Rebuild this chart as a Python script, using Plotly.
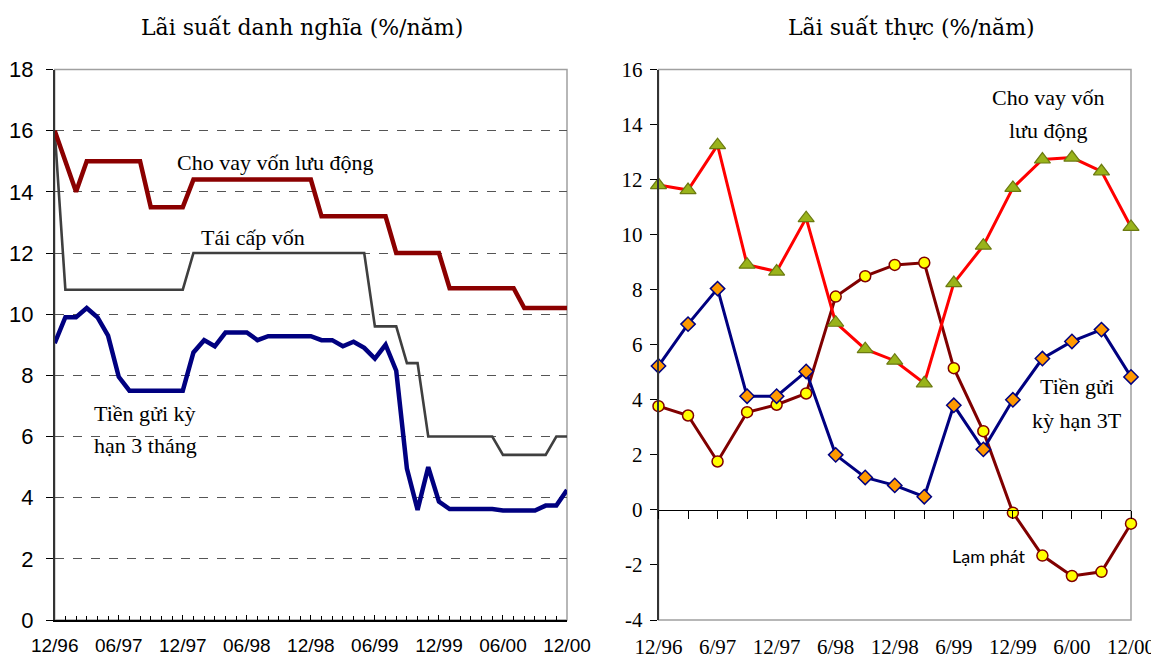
import plotly.graph_objects as go

# ---- left panel: nominal rates, monthly 12/96 .. 12/00 ----
months = list(range(49))
month_ticks = [0, 6, 12, 18, 24, 30, 36, 42, 48]
month_labels = ["12/96", "06/97", "12/97", "06/98", "12/98", "06/99", "12/99", "06/00", "12/00"]

lending_nominal = [16.0, 15.05, 14.0, 15.0, 15.0, 15.0, 15.0, 15.0, 15.0, 13.5,
                   13.5, 13.5, 13.5, 14.4, 14.4, 14.4, 14.4, 14.4, 14.4, 14.4,
                   14.4, 14.4, 14.4, 14.4, 14.4, 13.2, 13.2, 13.2, 13.2, 13.2,
                   13.2, 13.2, 12.0, 12.0, 12.0, 12.0, 12.0, 10.85, 10.85, 10.85,
                   10.85, 10.85, 10.85, 10.85, 10.2, 10.2, 10.2, 10.2, 10.2]
refinance_nominal = [16.0, 10.8, 10.8, 10.8, 10.8, 10.8, 10.8, 10.8, 10.8, 10.8,
                     10.8, 10.8, 10.8, 12.0, 12.0, 12.0, 12.0, 12.0, 12.0, 12.0,
                     12.0, 12.0, 12.0, 12.0, 12.0, 12.0, 12.0, 12.0, 12.0, 12.0,
                     9.6, 9.6, 9.6, 8.4, 8.4, 6.0, 6.0, 6.0, 6.0, 6.0,
                     6.0, 6.0, 5.4, 5.4, 5.4, 5.4, 5.4, 6.0, 6.0]
deposit_nominal = [9.05, 9.9, 9.9, 10.2, 9.9, 9.3, 7.95, 7.5, 7.5, 7.5,
                   7.5, 7.5, 7.5, 8.75, 9.15, 8.95, 9.4, 9.4, 9.4, 9.15,
                   9.28, 9.28, 9.28, 9.28, 9.28, 9.15, 9.15, 8.95, 9.1, 8.9,
                   8.55, 9.0, 8.15, 4.95, 3.6, 5.0, 3.87, 3.63, 3.63, 3.63,
                   3.63, 3.63, 3.58, 3.58, 3.58, 3.58, 3.74, 3.74, 4.25]

# ---- right panel: real rates, quarterly ----
quarters = list(range(17))
quarter_labels = ["12/96", "", "6/97", "", "12/97", "", "6/98", "", "12/98", "",
                  "6/99", "", "12/99", "", "6/00", "", "12/00"]
real_ticks = [-4, -2, 0, 2, 4, 6, 8, 10, 12, 14, 16]
real_tick_labels = ["-4", "-2", "0", "2", "4", "6", "8", "10", "12", "14", "16"]

lending_real = [11.8, 11.62, 13.25, 8.91, 8.66, 10.6, 6.8, 5.84, 5.42, 4.6,
                8.24, 9.6, 11.7, 12.73, 12.8, 12.3, 10.28]
deposit_real = [5.23, 6.75, 8.04, 4.13, 4.13, 5.03, 2.0, 1.18, 0.89, 0.48,
                3.8, 2.2, 4.0, 5.5, 6.12, 6.55, 4.83]
inflation = [3.77, 3.43, 1.76, 3.55, 3.82, 4.23, 7.75, 8.49, 8.9, 8.98,
             5.15, 2.86, -0.1, -1.66, -2.4, -2.25, -0.5]

W, H = 1159, 658
PAGE_PAD = 8  # default body margin of the html page
SERIF = "Liberation Serif, Times New Roman, serif"
TITLE_SERIF = "DejaVu Serif, serif"
SANS = "Liberation Sans, Arial, sans-serif"


def fx(px):
    return (px - PAGE_PAD) / W


def fy(py):
    return 1 - (py - PAGE_PAD) / H


fig = go.Figure()

fig.add_trace(go.Scatter(x=months, y=refinance_nominal, mode="lines",
                         line=dict(color="#3f3f3f", width=2.6), xaxis="x", yaxis="y"))
fig.add_trace(go.Scatter(x=months, y=lending_nominal, mode="lines",
                         line=dict(color="#8b0000", width=4.5), xaxis="x", yaxis="y"))
fig.add_trace(go.Scatter(x=months, y=deposit_nominal, mode="lines",
                         line=dict(color="#000080", width=4.5), xaxis="x", yaxis="y"))

fig.add_trace(go.Scatter(x=quarters, y=inflation, mode="lines+markers", cliponaxis=False,
                         line=dict(color="#800000", width=3),
                         marker=dict(symbol="circle", size=11, color="#ffff00",
                                     line=dict(color="#800000", width=1.5)),
                         xaxis="x2", yaxis="y2"))
fig.add_trace(go.Scatter(x=quarters, y=lending_real, mode="lines+markers", cliponaxis=False,
                         line=dict(color="#ff0000", width=3),
                         marker=dict(symbol="triangle-up", size=14, color="#99b31a",
                                     line=dict(color="#6b7a10", width=1.2)),
                         xaxis="x2", yaxis="y2"))
fig.add_trace(go.Scatter(x=quarters, y=deposit_real, mode="lines+markers", cliponaxis=False,
                         line=dict(color="#000080", width=3),
                         marker=dict(symbol="diamond", size=11, color="#ff9900",
                                     line=dict(color="#000080", width=1.5)),
                         xaxis="x2", yaxis="y2"))

y_dom = [fy(620), fy(69.5)]
x1_dom = [fx(54.7), fx(567)]
x2_dom = [fx(658.5), fx(1131)]

fig.update_layout(
    width=W, height=H,
    margin=dict(l=0, r=0, t=0, b=0),
    paper_bgcolor="white", plot_bgcolor="white",
    showlegend=False,
    xaxis=dict(domain=x1_dom, range=[0, 48], anchor="y", automargin=False,
               tickvals=month_ticks, ticktext=month_labels,
               ticks="inside", ticklen=5, tickcolor="black",
               minor=dict(dtick=1, tick0=0, ticks="inside", ticklen=4, tickcolor="black",
                          showgrid=False),
               showline=True, linecolor="black", linewidth=1.5,
               showgrid=False, zeroline=False, ticklabelstandoff=7,
               tickfont=dict(family=SANS, size=19, color="black")),
    yaxis=dict(domain=y_dom, range=[0, 18], anchor="x", automargin=False,
               tickvals=[0, 2, 4, 6, 8, 10, 12, 14, 16, 18],
               ticks="outside", ticklen=7, tickcolor="black",
               showline=True, linecolor="#333333", linewidth=1.5,
               showgrid=False, zeroline=False, ticklabelstandoff=8,
               minor=dict(tickvals=[2, 4, 6, 8, 10, 12, 14, 16], ticks="",
                          showgrid=True, gridcolor="#555555", griddash="dash", gridwidth=1),
               tickfont=dict(family=SANS, size=22, color="black")),
    # right panel x axis sits on the zero line, its labels pushed to the bottom
    xaxis2=dict(domain=x2_dom, range=[0, 16], anchor="free", automargin=False,
                position=fy(510),
                tickvals=quarters, ticktext=quarter_labels,
                ticks="outside", ticklen=8, tickcolor="black",
                showline=True, linecolor="black", linewidth=1.2,
                showgrid=False, zeroline=False, ticklabelstandoff=110,
                tickfont=dict(family=SERIF, size=21, color="black")),
    yaxis2=dict(domain=y_dom, range=[-4, 16], anchor="x2", automargin=False,
                tickvals=real_ticks, ticktext=real_tick_labels,
                ticks="outside", ticklen=7, tickcolor="black",
                showline=True, linecolor="#333333", linewidth=1.5,
                showgrid=False, zeroline=False, ticklabelstandoff=3,
                tickfont=dict(family=SERIF, size=21, color="black")),
)

# light grey plot-area frames (top, right and bottom edges)
for xr, yr in [("x domain", "y domain"), ("x2 domain", "y2 domain")]:
    fig.add_shape(type="rect", xref=xr, yref=yr, x0=0, x1=1, y0=0, y1=1,
                  line=dict(color="#a0a0a0", width=1.5), layer="below")

# panel titles
title_font = dict(family=TITLE_SERIF, size=22, color="black")
fig.add_annotation(x=fx(302), y=fy(27), xref="paper", yref="paper", showarrow=False,
                   xanchor="center", yanchor="middle",
                   text="Lãi suất danh nghĩa (%/năm)", font=title_font)
fig.add_annotation(x=fx(911), y=fy(27), xref="paper", yref="paper", showarrow=False,
                   xanchor="center", yanchor="middle",
                   text="Lãi suất thực (%/năm)", font=title_font)

# left panel labels
ann_font = dict(family=SERIF, size=22, color="black")
fig.add_annotation(x=20.6, y=14.95, xref="x", yref="y", showarrow=False,
                   text="Cho vay vốn lưu động", font=ann_font)
fig.add_annotation(x=18.6, y=12.5, xref="x", yref="y", showarrow=False,
                   text="Tái cấp vốn", font=ann_font)
fig.add_annotation(x=8.5, y=6.76, xref="x", yref="y", showarrow=False,
                   text="Tiền gửi kỳ", font=ann_font)
fig.add_annotation(x=8.5, y=5.69, xref="x", yref="y", showarrow=False,
                   text="hạn 3 tháng", font=ann_font)

# right panel labels
fig.add_annotation(x=13.2, y=15.0, xref="x2", yref="y2", showarrow=False,
                   text="Cho vay vốn", font=ann_font)
fig.add_annotation(x=13.2, y=13.77, xref="x2", yref="y2", showarrow=False,
                   text="lưu động", font=ann_font)
fig.add_annotation(x=14.17, y=4.47, xref="x2", yref="y2", showarrow=False,
                   text="Tiền gửi", font=ann_font)
fig.add_annotation(x=14.17, y=3.23, xref="x2", yref="y2", showarrow=False,
                   text="kỳ hạn 3T", font=ann_font)
fig.add_annotation(x=11.2, y=-1.67, xref="x2", yref="y2", showarrow=False,
                   text="Lạm phát", font=dict(family="Lato, Noto Sans, sans-serif", size=18, color="black"))

fig.write_html("out.html")
